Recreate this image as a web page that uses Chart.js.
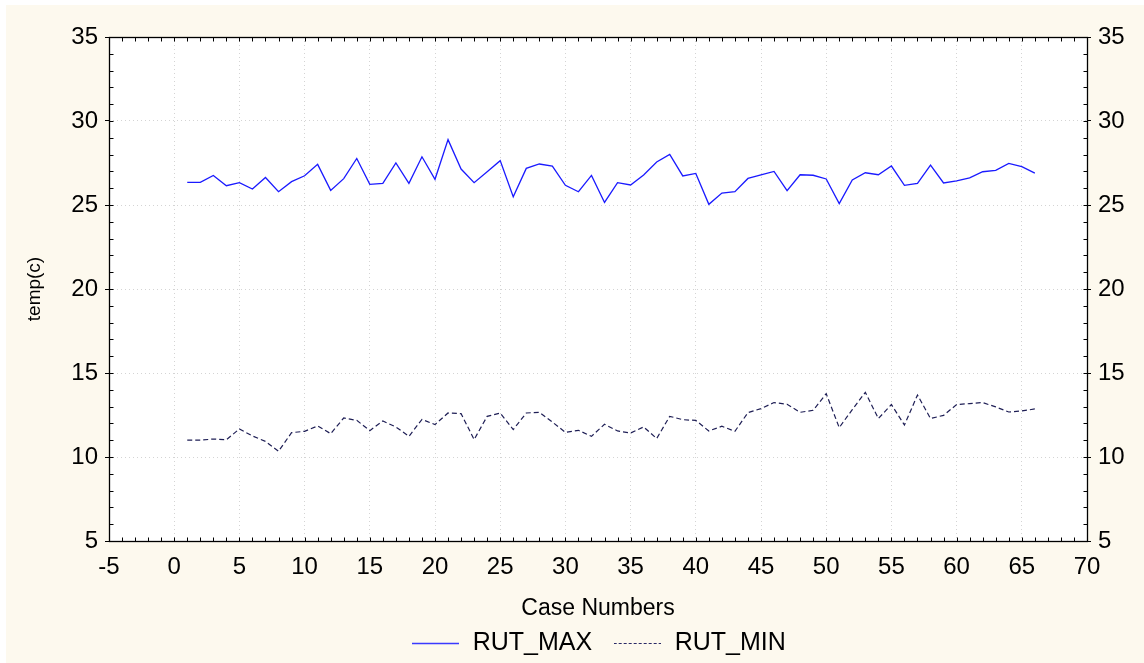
<!DOCTYPE html>
<html>
<head>
<meta charset="utf-8">
<script src="https://cdn.jsdelivr.net/npm/chart.js@4/dist/chart.umd.min.js"></script>
<style>
  html, body { margin: 0; padding: 0; background: #ffffff; }
  canvas { display: block; }
</style>
</head>
<body>
<canvas id="c" width="1144" height="663"></canvas>
<script>
const caseNumbers = [1,2,3,4,5,6,7,8,9,10,11,12,13,14,15,16,17,18,19,20,21,22,23,24,25,26,27,28,29,30,31,32,33,34,35,36,37,38,39,40,41,42,43,44,45,46,47,48,49,50,51,52,53,54,55,56,57,58,59,60,61,62,63,64,65,66];
const rutMax = [26.35,26.35,26.76,26.15,26.33,25.95,26.64,25.79,26.39,26.74,
                27.42,25.87,26.57,27.77,26.23,26.29,27.50,26.29,27.87,26.53,
                28.89,27.14,26.33,26.98,27.64,25.49,27.18,27.44,27.32,26.17,
                25.79,26.76,25.15,26.33,26.19,26.79,27.56,28.01,26.73,26.88,
                25.04,25.71,25.79,26.58,26.79,27.00,25.85,26.80,26.77,26.55,
                25.08,26.49,26.92,26.80,27.32,26.17,26.29,27.38,26.31,26.43,
                26.61,26.98,27.06,27.48,27.28,26.90];
const rutMin = [11.01,11.00,11.07,11.03,11.67,11.25,10.93,10.34,11.45,11.53,
                11.85,11.39,12.32,12.18,11.57,12.14,11.79,11.23,12.24,11.93,
                12.62,12.58,11.04,12.42,12.62,11.63,12.62,12.66,12.08,11.47,
                11.59,11.23,11.95,11.55,11.43,11.79,11.10,12.42,12.22,12.18,
                11.55,11.83,11.53,12.64,12.88,13.24,13.14,12.66,12.78,13.77,
                11.75,12.82,13.85,12.29,13.12,11.90,13.69,12.29,12.48,13.12,
                13.18,13.24,12.98,12.68,12.74,12.86];
const seriesNames = ['RUT_MAX', 'RUT_MIN'];
const xRange = [-5, 70];
const yRange = [5, 35];
const xTitle = 'Case Numbers';
const yTitle = 'temp(c)';

const FONT = "'Liberation Sans', Arial, sans-serif";

const toPoints = (xs, ys) => xs.map((x, i) => ({ x: x, y: ys[i] }));

// legend icon: a short line sample in the series' stroke style
function lineIcon(color, dash, width) {
  const c = document.createElement('canvas');
  c.width = 47; c.height = 3;
  const g = c.getContext('2d');
  g.strokeStyle = color;
  g.lineWidth = width;
  g.setLineDash(dash);
  g.beginPath();
  g.moveTo(0, 1.5);
  g.lineTo(47, 1.5);
  g.stroke();
  return c;
}

const framePlugin = {
  id: 'frame',
  beforeDraw(chart) {
    const ctx = chart.ctx;
    const a = chart.chartArea;
    ctx.save();
    ctx.fillStyle = '#fdf9ee';
    ctx.fillRect(6, 5, chart.width - 6, chart.height - 5);
    ctx.fillStyle = '#ffffff';
    ctx.fillRect(a.left, a.top, a.right - a.left, a.bottom - a.top);
    ctx.restore();
  },
  afterDraw(chart) {
    const ctx = chart.ctx;
    const a = chart.chartArea;
    const xs = chart.scales.x;
    const ys = chart.scales.y;
    const L = Math.round(a.left) + 0.5, R = Math.round(a.right) + 0.5;
    const T = Math.round(a.top) + 0.5, B = Math.round(a.bottom) + 0.5;
    ctx.save();
    ctx.strokeStyle = '#000';
    ctx.lineWidth = 1;
    ctx.beginPath();
    for (let v = xs.min; v <= xs.max; v++) {
      const p = Math.round(xs.getPixelForValue(v)) + 0.5;
      ctx.moveTo(p, B); ctx.lineTo(p, B - 4);
      ctx.moveTo(p, T); ctx.lineTo(p, T + 4);
    }
    for (let v = ys.min; v <= ys.max; v++) {
      const p = Math.round(ys.getPixelForValue(v)) + 0.5;
      ctx.moveTo(L, p); ctx.lineTo(L + 4, p);
      ctx.moveTo(R, p); ctx.lineTo(R - 4, p);
    }
    ctx.stroke();
    ctx.lineWidth = 1.3;
    ctx.strokeRect(L, T, R - L, B - T);
    ctx.restore();
  }
};

const gridStyle = { color: '#d4d4d4', tickColor: '#000', tickLength: 4, tickWidth: 1 };

new Chart(document.getElementById('c'), {
  type: 'line',
  data: {
    datasets: [
      {
        label: seriesNames[0],
        data: toPoints(caseNumbers, rutMax),
        borderColor: '#1a1aff',
        backgroundColor: '#1a1aff',
        borderWidth: 1.3,
        pointRadius: 0,
        pointStyle: lineIcon('#3a3aff', [], 1.3),
        tension: 0,
        fill: false
      },
      {
        label: seriesNames[1],
        data: toPoints(caseNumbers, rutMin),
        borderColor: '#1e1e55',
        backgroundColor: '#1e1e55',
        borderWidth: 1.2,
        borderDash: [5, 3],
        pointRadius: 0,
        pointStyle: lineIcon('#2a2a66', [3, 2], 1.2),
        tension: 0,
        fill: false
      }
    ]
  },
  options: {
    responsive: false,
    animation: false,
    devicePixelRatio: 1,
    layout: { padding: { top: 37, left: 0, right: 0, bottom: -3 } },
    plugins: {
      tooltip: { enabled: false },
      legend: {
        position: 'bottom',
        fullSize: false,
        labels: {
          usePointStyle: true,
          pointStyleWidth: 50,
          padding: 20,
          color: '#000',
          font: { family: FONT, size: 25 }
        }
      }
    },
    scales: {
      x: {
        type: 'linear',
        position: 'bottom',
        min: xRange[0],
        max: xRange[1],
        afterFit(s) { s.height = 70; },
        ticks: { stepSize: 5, color: '#000', padding: 12, font: { family: FONT, size: 24 }, maxRotation: 0 },
        grid: Object.assign({}, gridStyle, { drawTicks: false }),
        border: { display: false, dash: [1, 3] },
        title: {
          display: true, text: xTitle, color: '#000',
          font: { family: FONT, size: 23, lineHeight: 1 },
          padding: { top: 0, bottom: -9 }
        }
      },
      y: {
        type: 'linear',
        position: 'left',
        min: yRange[0],
        max: yRange[1],
        afterFit(s) { s.width = 109; },
        ticks: { stepSize: 5, color: '#000', padding: 7, font: { family: FONT, size: 24 } },
        grid: Object.assign({}, gridStyle),
        border: { display: false, dash: [1, 3] },
        title: {
          display: true, text: yTitle, color: '#000',
          font: { family: FONT, size: 19 },
          padding: { top: 23, bottom: 0 }
        }
      },
      y2: {
        type: 'linear',
        position: 'right',
        min: yRange[0],
        max: yRange[1],
        afterFit(s) { s.width = 57; },
        ticks: { stepSize: 5, color: '#000', padding: 7, font: { family: FONT, size: 24 } },
        grid: Object.assign({}, gridStyle, { drawOnChartArea: false }),
        border: { display: false }
      }
    }
  },
  plugins: [framePlugin]
});
</script>
</body>
</html>
